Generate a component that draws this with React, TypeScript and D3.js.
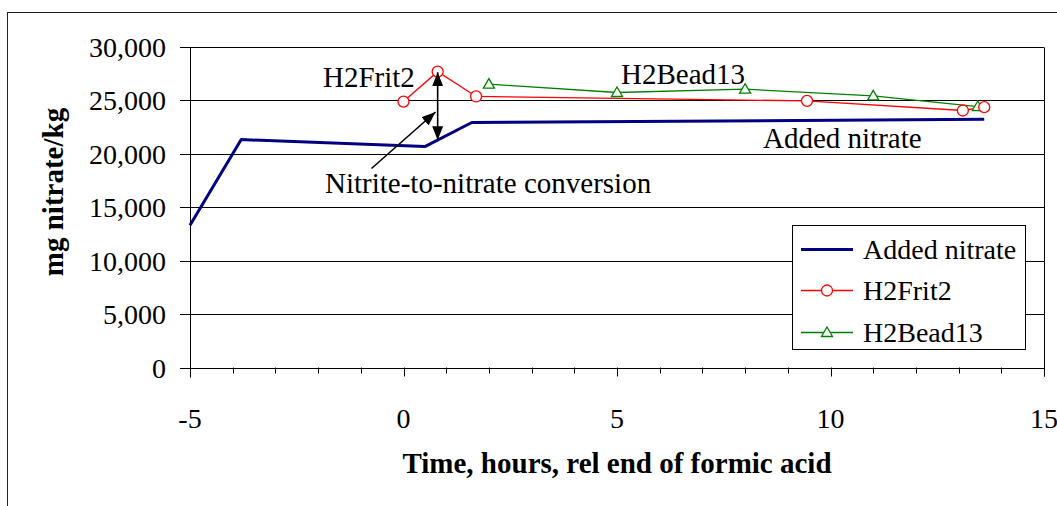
import React from "react";
import * as d3 from "d3";

const addedX = [-5, -3.8, 0.5, 1.6, 13.6];
const addedY = [13300, 21300, 20650, 22900, 23200];

const fritX = [0, 0.8, 1.7, 9.45, 13.1, 13.6];
const fritY = [24850, 27650, 25330, 24920, 24020, 24330];

const beadX = [2.0, 5.0, 8.0, 11.0, 13.45];
const beadY = [26480, 25700, 26010, 25390, 24390];

const xTicks = [-5, 0, 5, 10, 15];
const xMinor = d3.range(-5, 16, 1);
const yTicks = [0, 5000, 10000, 15000, 20000, 25000, 30000];

const seriesNames = ["Added nitrate", "H2Frit2", "H2Bead13"];

const W = 1057;
const H = 506;
const L = 190;
const R = 1044;
const T = 46.5;
const B = 367.5;
const FONT = "'Liberation Serif', 'Times New Roman', serif";

export default function App() {
  const x = d3.scaleLinear().domain([-5, 15]).range([L, R]);
  const y = d3.scaleLinear().domain([0, 30000]).range([B, T]);
  const fmt = d3.format(",");

  const line = d3
    .line<[number, number]>()
    .x((d) => x(d[0]))
    .y((d) => y(d[1]));

  const added = addedX.map((v, i) => [v, addedY[i]] as [number, number]);
  const frit = fritX.map((v, i) => [v, fritY[i]] as [number, number]);
  const bead = beadX.map((v, i) => [v, beadY[i]] as [number, number]);

  const tri = (cx: number, cy: number) =>
    `M${cx},${cy - 5.5}L${cx + 5.5},${cy + 4}L${cx - 5.5},${cy + 4}Z`;

  const legY = [249.5, 290.5, 332.5];

  const ax = x(0.8);
  const aTop = y(27600);
  const aBot = y(21250);
  const dStart: [number, number] = [x(-0.75), y(18600)];
  const dEnd: [number, number] = [x(0.75), y(23880)];

  return (
    <svg width={W} height={H} style={{ display: "block", position: "absolute", left: 0, top: 0 }}>
      <defs>
        <marker id="ah" viewBox="0 0 14 11" refX="14" refY="5.5" markerWidth="14" markerHeight="11" markerUnits="userSpaceOnUse" orient="auto-start-reverse">
          <path d="M0,0L14,5.5L0,11Z" fill="#000" />
        </marker>
      </defs>
      <rect x={0} y={0} width={W} height={H} fill="#fff" />
      <rect x={7.5} y={12.5} width={1100} height={600} fill="none" stroke="#222" strokeWidth={1} />

      {yTicks.map((t) => (
        <line key={"g" + t} x1={L - 10} x2={R} y1={Math.round(y(t)) + 0.5} y2={Math.round(y(t)) + 0.5} stroke="#000" strokeWidth={1} />
      ))}
      <line x1={R + 0.5} x2={R + 0.5} y1={Math.round(T) + 0.5} y2={B + 9} stroke="#000" strokeWidth={1} />
      <line x1={L + 0.5} x2={L + 0.5} y1={Math.round(T) + 0.5} y2={B + 10} stroke="#000" strokeWidth={1} />
      {xMinor.map((t) => (
        <line key={"xt" + t} x1={Math.round(x(t)) + 0.5} x2={Math.round(x(t)) + 0.5} y1={B} y2={B + (xTicks.includes(t) ? 9 : 6)} stroke="#000" strokeWidth={1} />
      ))}

      {yTicks.map((t) => (
        <text key={"yl" + t} x={166} y={y(t) + 10} textAnchor="end" fontFamily={FONT} fontSize={28} fill="#000">
          {fmt(t)}
        </text>
      ))}
      {xTicks.map((t) => (
        <text key={"xl" + t} x={x(t)} y={428} textAnchor="middle" fontFamily={FONT} fontSize={28} fill="#000">
          {t}
        </text>
      ))}

      <text x={617} y={473} textAnchor="middle" fontFamily={FONT} fontWeight="bold" fontSize={29} fill="#000">
        Time, hours, rel end of formic acid
      </text>
      <text transform="translate(63,192) rotate(-90)" textAnchor="middle" fontFamily={FONT} fontWeight="bold" fontSize={29} fill="#000">
        mg nitrate/kg
      </text>

      <path d={line(added) || ""} fill="none" stroke="#000080" strokeWidth={3} strokeLinejoin="round" />
      <path d={line(bead) || ""} fill="none" stroke="#008000" strokeWidth={1.3} />
      <path d={line(frit) || ""} fill="none" stroke="#ff0000" strokeWidth={1.3} />
      {bead.map((d, i) => (
        <path key={"b" + i} d={tri(x(d[0]), y(d[1]))} fill="#fff" stroke="#008000" strokeWidth={1.3} />
      ))}
      {frit.map((d, i) => (
        <circle key={"f" + i} cx={x(d[0])} cy={y(d[1])} r={5.5} fill="#fff" stroke="#ff0000" strokeWidth={1.3} />
      ))}

      <line x1={ax} x2={ax} y1={aTop} y2={aBot} stroke="#000" strokeWidth={1.6} markerStart="url(#ah)" markerEnd="url(#ah)" />
      <line x1={dStart[0]} y1={dStart[1]} x2={dEnd[0]} y2={dEnd[1]} stroke="#000" strokeWidth={1.6} markerEnd="url(#ah)" />
      <text x={323} y={87} fontFamily={FONT} fontSize={29} fill="#000">H2Frit2</text>
      <text x={621} y={84} fontFamily={FONT} fontSize={29} fill="#000">H2Bead13</text>
      <text x={763} y={148} fontFamily={FONT} fontSize={29} fill="#000">Added nitrate</text>
      <text x={325} y={193} fontFamily={FONT} fontSize={29} fill="#000">Nitrite-to-nitrate conversion</text>

      <rect x={792.5} y={225.5} width={233} height={124} fill="#fff" stroke="#000" strokeWidth={1} />
      {seriesNames.map((n, i) => (
        <g key={"lg" + i}>
          {i === 0 && <line x1={801} x2={853} y1={legY[i]} y2={legY[i]} stroke="#000080" strokeWidth={3} />}
          {i === 1 && (
            <>
              <line x1={801} x2={853} y1={legY[i]} y2={legY[i]} stroke="#ff0000" strokeWidth={1.3} />
              <circle cx={827} cy={legY[i]} r={5.5} fill="#fff" stroke="#ff0000" strokeWidth={1.3} />
            </>
          )}
          {i === 2 && (
            <>
              <line x1={801} x2={853} y1={legY[i]} y2={legY[i]} stroke="#008000" strokeWidth={1.3} />
              <path d={tri(827, legY[i])} fill="#fff" stroke="#008000" strokeWidth={1.3} />
            </>
          )}
          <text x={863} y={legY[i] + 9.5} fontFamily={FONT} fontSize={28} fill="#000">{n}</text>
        </g>
      ))}
    </svg>
  );
}
